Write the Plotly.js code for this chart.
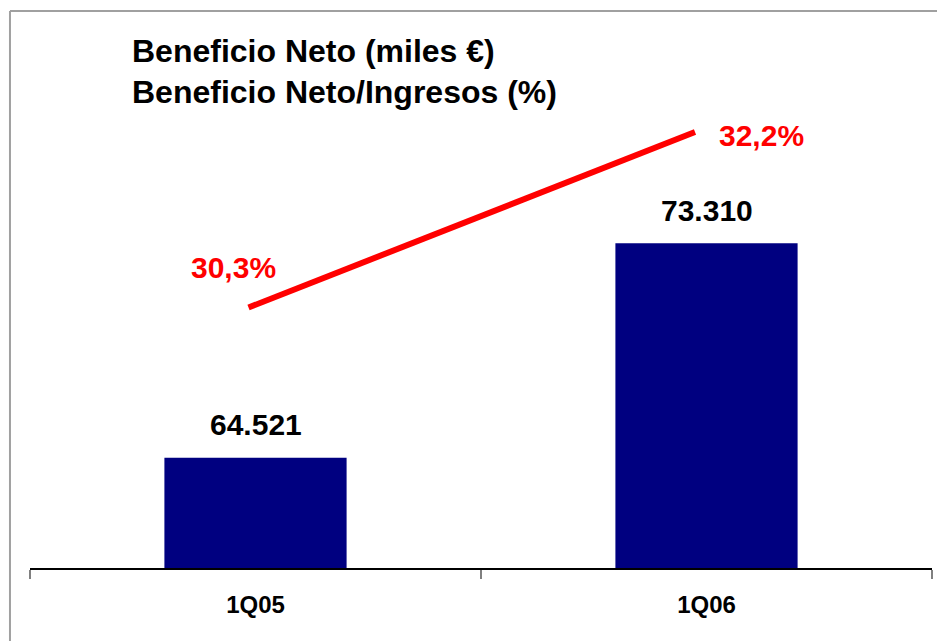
<!DOCTYPE html>
<html>
<head>
<meta charset="utf-8">
<script src="https://cdn.plot.ly/plotly-3.0.1.min.js"></script>
<style>html,body{margin:0;padding:0;background:#fff;}#chart{width:937px;height:641px;}</style>
</head>
<body>
<div id="chart"></div>
<script>
const categories = ["1Q05", "1Q06"];
const beneficioNeto = [64521, 73310];          // miles €
const margenNeto = [30.3, 32.2];               // Beneficio Neto / Ingresos (%)
const titleLines = ["Beneficio Neto (miles €)", "Beneficio Neto/Ingresos (%)"];

function fmtThousands(v) {
  return String(v).replace(/\B(?=(\d{3})+(?!\d))/g, ".");
}
function fmtPct(v) {
  return v.toFixed(1).replace(".", ",") + "%";
}

const FONT = "Liberation Sans, Arial, sans-serif";

const traces = [
  {
    type: "bar",
    x: categories,
    y: beneficioNeto,
    marker: {color: "#000080"},
    width: 0.404,
    xaxis: "x", yaxis: "y",
    hoverinfo: "skip"
  },
  {
    type: "scatter",
    mode: "lines",
    x: categories,
    y: margenNeto,
    line: {color: "#ff0000", width: 6},
    xaxis: "x2", yaxis: "y2",
    cliponaxis: false,
    hoverinfo: "skip"
  }
];

const annotations = [];
categories.forEach((c, i) => {
  annotations.push({
    x: c, y: beneficioNeto[i], xref: "x", yref: "y",
    text: fmtThousands(beneficioNeto[i]),
    showarrow: false, yanchor: "middle", yshift: 33,
    font: {family: FONT, size: 30, color: "#000000", weight: "bold"}
  });
});
const pctShifts = [[-15, 40], [66, -3]];
categories.forEach((c, i) => {
  annotations.push({
    x: c, y: margenNeto[i], xref: "x2", yref: "y2",
    text: fmtPct(margenNeto[i]),
    showarrow: false, xanchor: "center", yanchor: "middle",
    xshift: pctShifts[i][0], yshift: pctShifts[i][1],
    font: {family: FONT, size: 30, color: "#ff0000", weight: "bold"}
  });
});
const titleY = [1.0595, 0.9754];
titleLines.forEach((t, i) => {
  annotations.push({
    xref: "paper", yref: "paper", x: 0.1109, y: titleY[i],
    xanchor: "left", yanchor: "middle", showarrow: false,
    text: t,
    font: {family: FONT, size: 32, color: "#000000", weight: "bold"}
  });
});

const layout = {
  width: 937, height: 641,
  margin: {l: 30, r: 5, t: 80, b: 73},
  paper_bgcolor: "#ffffff", plot_bgcolor: "#ffffff",
  showlegend: false,
  xaxis: {
    type: "category", range: [-0.5, 1.5],
    showgrid: false, zeroline: false,
    showline: true, linecolor: "#000000", linewidth: 2,
    ticks: "outside", tickson: "boundaries", ticklen: 9, tickwidth: 2, tickcolor: "#808080",
    ticklabelstandoff: 14,
    tickfont: {family: FONT, size: 24, color: "#000000", weight: "bold"}
  },
  yaxis: {
    range: [60000, 80000], visible: false, showgrid: false, zeroline: false
  },
  xaxis2: {
    type: "category", overlaying: "x", range: [-0.4894, 1.5308],
    visible: false, showgrid: false, zeroline: false
  },
  yaxis2: {
    overlaying: "y", range: [27.48, 32.763],
    visible: false, showgrid: false, zeroline: false
  },
  shapes: [
    {type: "line", xref: "paper", yref: "paper", x0: -0.0222, x1: 1.01, y0: 1.1414, y1: 1.1414,
     line: {color: "#a0a0a0", width: 2}},
    {type: "line", xref: "paper", yref: "paper", x0: -0.0222, x1: -0.0222, y0: -0.2, y1: 1.1414,
     line: {color: "#a0a0a0", width: 2}}
  ],
  annotations: annotations
};

Plotly.newPlot("chart", traces, layout, {displayModeBar: false, staticPlot: true});
</script>
</body>
</html>
